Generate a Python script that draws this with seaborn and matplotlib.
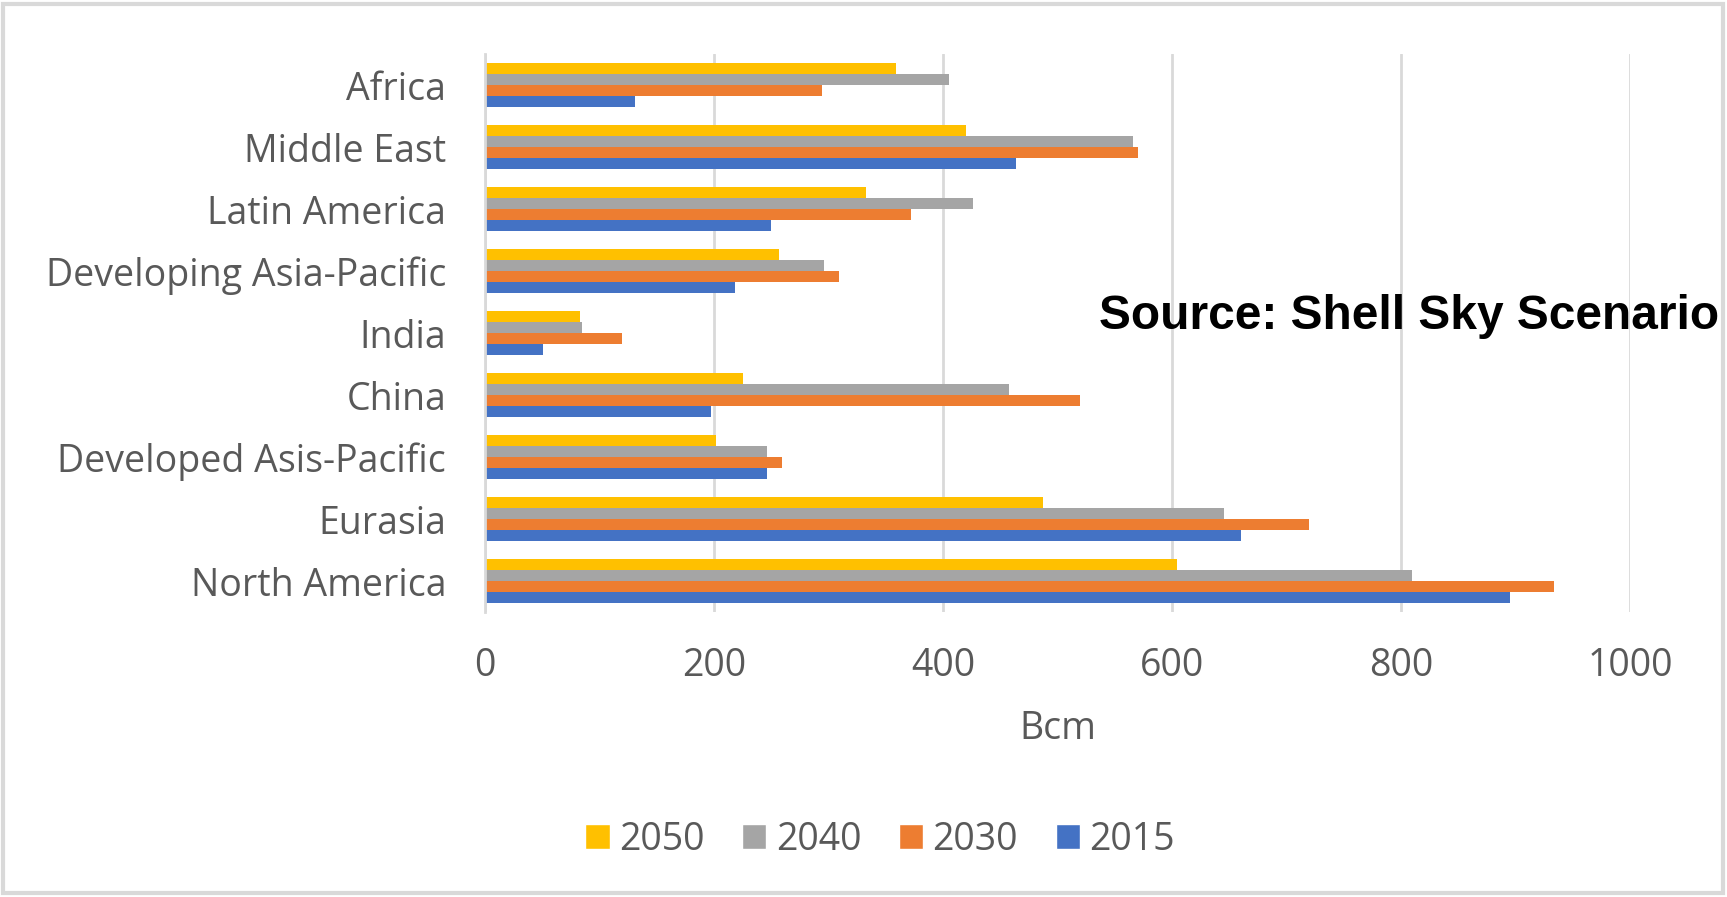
import matplotlib
matplotlib.use("Agg")
import matplotlib.pyplot as plt
from matplotlib.patches import Rectangle
import seaborn as sns
import pandas as pd

# Natural gas demand by region (Bcm)
regions = ["Africa", "Middle East", "Latin America", "Developing Asia-Pacific",
           "India", "China", "Developed Asis-Pacific", "Eurasia", "North America"]
years = ["2050", "2040", "2030", "2015"]
v2050 = [359, 420, 333, 257, 83, 225, 202, 487, 604]
v2040 = [405, 566, 426, 296, 85, 458, 246, 645, 810]
v2030 = [294, 570, 372, 309, 120, 520, 259, 720, 934]
v2015 = [131, 464, 250, 218, 51, 197, 246, 660, 895]
x_ticks = [0, 200, 400, 600, 800, 1000]
colors = ["#FFC000", "#A5A5A5", "#ED7D31", "#4472C4"]

rows = []
for yr, vals in zip(years, [v2050, v2040, v2030, v2015]):
    for reg, v in zip(regions, vals):
        rows.append({"Region": reg, "Year": yr, "Bcm": v})
df = pd.DataFrame(rows)

sns.set_theme(style="white")
plt.rcParams["font.family"] = ["Open Sans", "DejaVu Sans"]
text_color = "#595959"
fs = 27

fig = plt.figure(figsize=(17.27, 8.97), dpi=100)
ax = fig.add_axes([485 / 1727, 1 - 612 / 897, 1145 / 1727, 558 / 897])

sns.barplot(data=df, x="Bcm", y="Region", hue="Year", order=regions,
            hue_order=years, palette=colors, orient="h", width=0.7,
            saturation=1, ax=ax, legend=False, errorbar=None, linewidth=0)

ax.set_xlim(0, 1000)
ax.set_xticks(x_ticks)
ax.xaxis.grid(True, color="#D9D9D9", linewidth=2)
ax.yaxis.grid(False)
ax.set_axisbelow(True)
for side in ["top", "right", "bottom"]:
    ax.spines[side].set_visible(False)
ax.spines["left"].set_color("#D9D9D9")
ax.spines["left"].set_linewidth(2)
ax.tick_params(axis="x", length=0, pad=25, labelsize=fs, labelcolor=text_color)
ax.tick_params(axis="y", length=0, pad=28, labelsize=fs, labelcolor=text_color)
ax.set_ylabel("")
ax.set_xlabel("Bcm", fontsize=fs, color=text_color, labelpad=18)

handles = [Rectangle((0, 0), 1, 1, facecolor=c) for c in colors]
fig.legend(handles, years, loc="center", ncol=4, frameon=False,
           bbox_to_anchor=(880 / 1727, 1 - 840 / 897), fontsize=fs,
           labelcolor=text_color, handlelength=0.65, handleheight=0.65,
           handletextpad=0.25, columnspacing=1.0)

fig.text(1099 / 1727, 1 - 316 / 897, "Source: Shell Sky Scenario",
         fontsize=34.5, fontweight="bold", color="black",
         family=["Liberation Sans", "DejaVu Sans"], ha="left", va="center")

# outer chart border
fig.patches.append(Rectangle((3 / 1727, 4 / 897), 1720 / 1727, 889 / 897,
                             transform=fig.transFigure, fill=False,
                             edgecolor="#D9D9D9", linewidth=3))

fig.savefig("out.png", dpi=100)
